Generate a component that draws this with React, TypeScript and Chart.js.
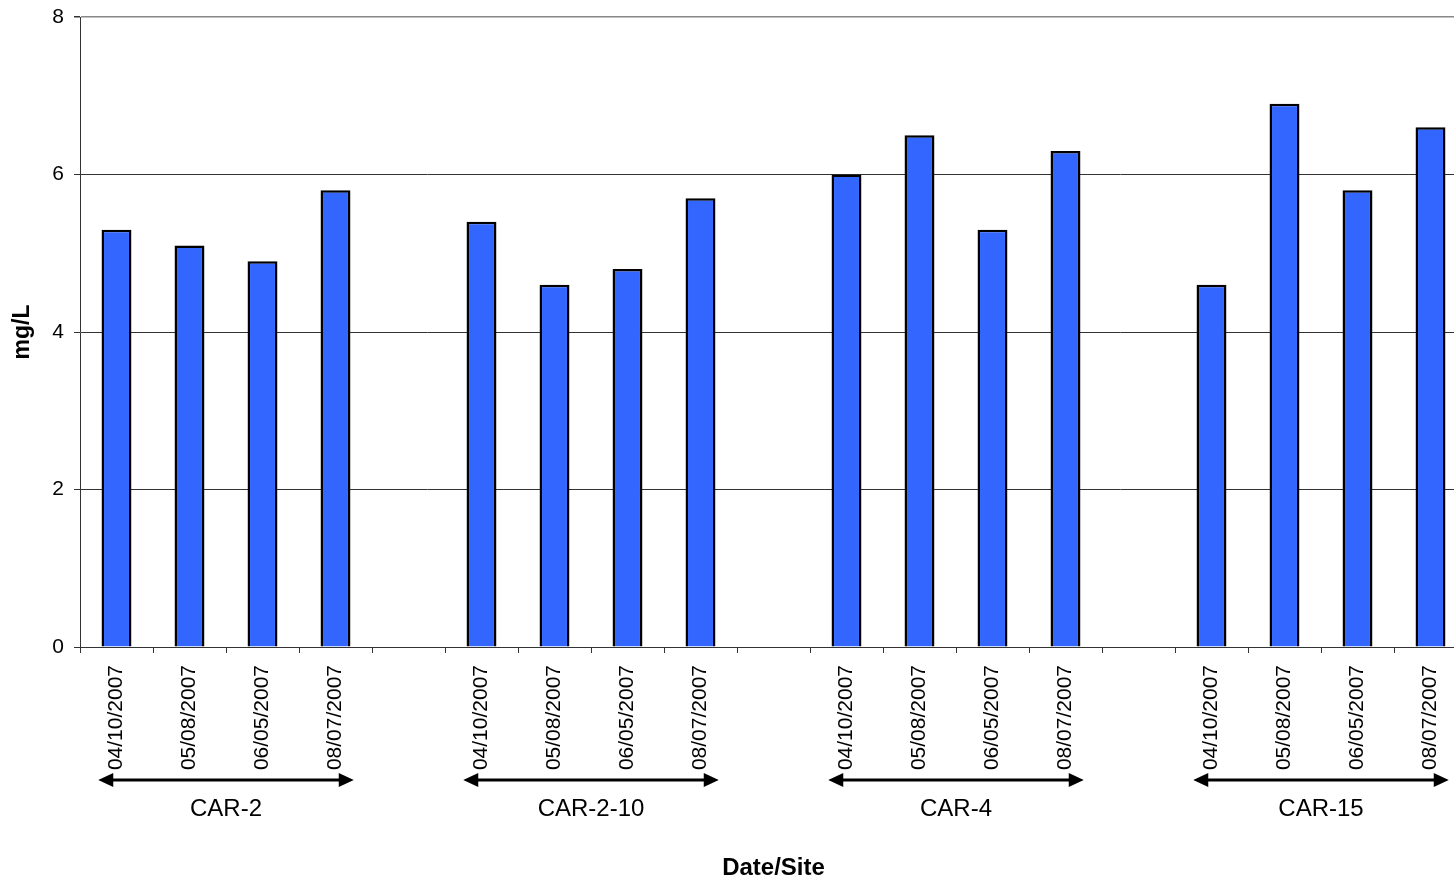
import { useEffect, useRef } from "react";
import { Chart, registerables } from "chart.js";

Chart.register(...registerables);

const sites = ["CAR-2", "CAR-2-10", "CAR-4", "CAR-15"];
const sampleDates = ["04/10/2007", "05/08/2007", "06/05/2007", "08/07/2007"];
const car2 = [5.3, 5.1, 4.9, 5.8];
const car210 = [5.4, 4.6, 4.8, 5.7];
const car4 = [6.0, 6.5, 5.3, 6.3];
const car15 = [4.6, 6.9, 5.8, 6.6];
const yTicks = [0, 2, 4, 6, 8];

const FONT = '"Liberation Sans", Arial, sans-serif';

export default function App() {
  const canvasRef = useRef<HTMLCanvasElement>(null);
  const chartRef = useRef<Chart | null>(null);

  useEffect(() => {
    if (!canvasRef.current) return;
    chartRef.current?.destroy();

    // one empty category between sites
    const labels: string[] = [];
    const values: (number | null)[] = [];
    const groups: { name: string; first: number; last: number }[] = [];
    [car2, car210, car4, car15].forEach((vals, i) => {
      if (i > 0) {
        labels.push("");
        values.push(null);
      }
      const first = labels.length;
      sampleDates.forEach((d, j) => {
        labels.push(d);
        values.push(vals[j]);
      });
      groups.push({ name: sites[i], first, last: labels.length - 1 });
    });

    const siteArrows = {
      id: "siteArrows",
      afterDraw(chart: Chart) {
        const x = chart.scales.x;
        const ctx = chart.ctx;
        const step = x.getPixelForValue(1) - x.getPixelForValue(0);
        const y = 780;
        ctx.save();
        ctx.strokeStyle = "#000";
        ctx.fillStyle = "#000";
        ctx.lineWidth = 3;
        groups.forEach((g) => {
          const x0 = x.getPixelForValue(g.first) - step * 0.25;
          const x1 = x.getPixelForValue(g.last) + step * 0.25;
          ctx.beginPath();
          ctx.moveTo(x0 + 10, y);
          ctx.lineTo(x1 - 10, y);
          ctx.stroke();
          ctx.beginPath();
          ctx.moveTo(x0, y);
          ctx.lineTo(x0 + 15, y - 7);
          ctx.lineTo(x0 + 15, y + 7);
          ctx.closePath();
          ctx.fill();
          ctx.beginPath();
          ctx.moveTo(x1, y);
          ctx.lineTo(x1 - 15, y - 7);
          ctx.lineTo(x1 - 15, y + 7);
          ctx.closePath();
          ctx.fill();
          ctx.font = `24px ${FONT}`;
          ctx.textAlign = "center";
          ctx.textBaseline = "middle";
          ctx.fillText(g.name, (x0 + x1) / 2, 809);
        });
        ctx.restore();
      },
    };

    chartRef.current = new Chart(canvasRef.current, {
      type: "bar",
      data: {
        labels,
        datasets: [
          {
            data: values,
            backgroundColor: "#3366FF",
            borderColor: "#000",
            borderWidth: 2.5,
            barPercentage: 0.41,
            categoryPercentage: 1,
          },
        ],
      },
      options: {
        responsive: true,
        maintainAspectRatio: false,
        animation: false,
        layout: { padding: { top: 17, right: 1, bottom: 0, left: 0 } },
        plugins: {
          legend: { display: false },
          tooltip: { enabled: false },
        },
        scales: {
          x: {
            grid: {
              offset: true,
              drawOnChartArea: false,
              tickLength: 6,
              color: "#333",
            },
            border: { color: "#333", width: 1 },
            ticks: {
              autoSkip: false,
              minRotation: 90,
              maxRotation: 90,
              padding: 12,
              color: "#000",
              font: { family: FONT, size: 21 },
            },
            title: {
              display: true,
              text: "Date/Site",
              color: "#000",
              font: { family: FONT, size: 24, weight: "bold" },
              padding: { top: 0, bottom: 3 },
            },
            afterFit: (scale: any) => {
              scale.height = 239;
              scale.paddingLeft = 0;
              scale.paddingRight = 0;
            },
          },
          y: {
            min: 0,
            max: 8,
            afterBuildTicks: (scale: any) => {
              scale.ticks = yTicks.map((v) => ({ value: v }));
            },
            grid: {
              tickLength: 6,
              color: (c: any) => (c.tick?.value === 8 ? "#888" : "#333"),
              lineWidth: (c: any) => (c.tick?.value === 8 ? 1.5 : 1),
              tickColor: "#333",
            },
            border: { color: "#333", width: 1 },
            ticks: {
              padding: 10,
              color: "#000",
              font: { family: FONT, size: 21 },
            },
            title: {
              display: true,
              text: "mg/L",
              color: "#000",
              font: { family: FONT, size: 23, weight: "bold" },
              padding: { top: 9, bottom: 0 },
            },
            afterFit: (scale: any) => {
              scale.width = 80;
              scale.paddingTop = 0;
              scale.paddingBottom = 0;
            },
          },
        },
      },
      plugins: [siteArrows],
    });

    return () => chartRef.current?.destroy();
  }, []);

  return (
    <div
      style={{
        position: "absolute",
        left: 0,
        top: 0,
        width: 1454,
        height: 886,
        overflow: "hidden",
        background: "#fff",
      }}
    >
      <div style={{ width: 1468, height: 886 }}>
        <canvas ref={canvasRef} />
      </div>
    </div>
  );
}
